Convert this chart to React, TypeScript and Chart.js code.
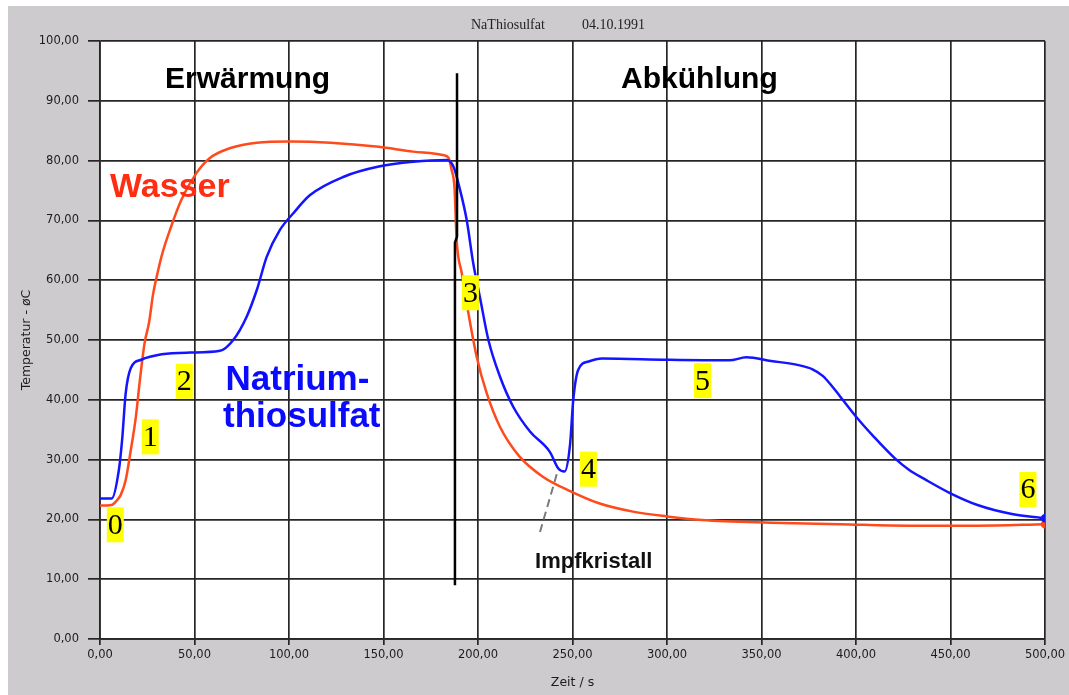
import { useEffect, useRef } from 'react';
import { Chart, registerables } from 'chart.js';

Chart.register(...registerables);

// Messwerte (Zeit in s, Temperatur in °C)
const wasserZeit = [0, 6, 9, 11, 13.6, 16.3, 19, 21, 23.6, 26, 28, 30.8, 33, 37, 43, 51, 58, 69, 83, 100, 122, 147.5, 165.7, 182, 184.5, 186, 187.6, 188.7, 191.4, 194.9, 199.3, 204.6, 211.6, 222, 234.5, 249, 264, 282, 300, 318.5, 355, 391.5, 428, 464, 500];
const wasserTemp = [22.3, 22.4, 23.2, 24.1, 26.6, 31.6, 37.2, 43, 49.5, 53, 57.5, 61.7, 64.5, 68.4, 73.4, 77.9, 80.4, 82.1, 83.0, 83.2, 83.0, 82.3, 81.5, 80.9, 80.4, 78.5, 75.3, 66.7, 61.2, 54.5, 47.2, 41.1, 35.5, 30.5, 27.1, 24.7, 22.7, 21.3, 20.5, 19.9, 19.45, 19.2, 18.95, 18.95, 19.2];

const natriumZeit = [0, 6.2, 10, 11.7, 13.6, 16.3, 21.8, 32.7, 47.6, 63.5, 70.5, 77.6, 83, 88.2, 95.2, 102.3, 111, 129, 147.5, 165.7, 183.4, 187, 190.5, 194, 197.5, 201, 205.5, 211.6, 218.7, 227.5, 238, 242.5, 245.8, 248.7, 250.4, 253, 258.5, 265.6, 300, 333, 342, 355, 369.6, 377, 382.4, 387, 391.5, 400.5, 409.5, 420.6, 428, 437, 449.7, 464.3, 482.5, 500];
const natriumTemp = [23.5, 23.5, 28.3, 33.3, 41.1, 45.3, 46.7, 47.6, 47.9, 48.2, 50, 53.9, 58.4, 63.9, 68.4, 71.2, 74.2, 77.3, 79, 79.8, 80.1, 79, 75.1, 70.1, 62.8, 57.2, 50, 43.9, 38.8, 34.7, 31.3, 28.5, 28, 32.5, 40, 45, 46.4, 46.9, 46.7, 46.6, 47.1, 46.5, 45.8, 45.1, 44.0, 42.4, 40.6, 37.0, 33.8, 30.2, 28.3, 26.6, 24.4, 22.4, 20.9, 20.2];

// senkrechte Trennlinie Erwärmung / Abkühlung
const trennZeit = [188.9, 188.9, 187.8, 187.8];
const trennTemp = [94.6, 67.3, 66.3, 9];

// gestrichelter Hinweis auf den Impfkristall
const impfZeit = [232.8, 242];
const impfTemp = [17.9, 27.9];

// nummerierte Marken
const marken = ['0', '1', '2', '3', '4', '5', '6'];
const markenZeit = [8.1, 26.6, 44.6, 196, 258.4, 318.8, 491];
const markenTemp = [19.1, 33.8, 43.1, 57.9, 28.4, 43.2, 25];

const texte = [
  { text: 'Erwärmung', x: 34.4, y: 92.1, color: '#000000', font: 'bold 30px "Liberation Sans", Arial, sans-serif' },
  { text: 'Abkühlung', x: 275.7, y: 92.1, color: '#000000', font: 'bold 30px "Liberation Sans", Arial, sans-serif' },
  { text: 'Wasser', x: 5.3, y: 73.9, color: '#ff2e12', font: 'bold 34px "Liberation Sans", Arial, sans-serif' },
  { text: 'Natrium-', x: 66.4, y: 41.6, color: '#0a0aff', font: 'bold 35px "Liberation Sans", Arial, sans-serif' },
  { text: 'thiosulfat', x: 65.1, y: 35.4, color: '#0a0aff', font: 'bold 35px "Liberation Sans", Arial, sans-serif' },
  { text: 'Impfkristall', x: 230.2, y: 11.9, color: '#111111', font: 'bold 22px "Liberation Sans", Arial, sans-serif' },
];

const zip = (xs: number[], ys: number[]) => xs.map((x, i) => ({ x, y: ys[i] }));
const fmt = (v: number | string) => Number(v).toFixed(2).replace('.', ',');

const gridColor = '#262626';
const tickFont = { family: '"DejaVu Sans", sans-serif', size: 11.5 };

const beschriftung = {
  id: 'beschriftung',
  beforeDraw(chart: Chart) {
    const { ctx, chartArea } = chart;
    ctx.save();
    ctx.fillStyle = '#ffffff';
    ctx.fillRect(chartArea.left, chartArea.top, chartArea.right - chartArea.left, chartArea.bottom - chartArea.top);
    ctx.fillStyle = '#222222';
    ctx.font = '14px "Liberation Serif", serif';
    ctx.textBaseline = 'middle';
    ctx.fillText('NaThiosulfat', chartArea.left + 371, 19);
    ctx.fillText('04.10.1991', chartArea.left + 482, 19);
    ctx.restore();
  },
  afterDatasetsDraw(chart: Chart) {
    const { ctx } = chart;
    const xs = chart.scales.x;
    const ys = chart.scales.y;
    ctx.save();
    ctx.textBaseline = 'alphabetic';
    ctx.textAlign = 'left';
    texte.forEach((t) => {
      ctx.font = t.font;
      ctx.fillStyle = t.color;
      ctx.fillText(t.text, xs.getPixelForValue(t.x), ys.getPixelForValue(t.y));
    });
    ctx.font = '30px "Liberation Serif", "Times New Roman", serif';
    ctx.textBaseline = 'middle';
    ctx.textAlign = 'center';
    marken.forEach((m, i) => {
      const cx = xs.getPixelForValue(markenZeit[i]);
      const cy = ys.getPixelForValue(markenTemp[i]);
      const w = ctx.measureText(m).width + 2;
      const h = 35;
      ctx.fillStyle = '#ffff00';
      ctx.fillRect(cx - w / 2, cy - h / 2, w, h);
      ctx.fillStyle = '#000000';
      ctx.fillText(m, cx, cy + 1);
    });
    ctx.restore();
  },
};

export default function App() {
  const canvasRef = useRef<HTMLCanvasElement>(null);

  useEffect(() => {
    if (!canvasRef.current) return;
    const lastPoint = (n: number) => (c: any) => (c.dataIndex === n - 1 ? 3 : 0);
    const chart = new Chart(canvasRef.current, {
      type: 'line',
      data: {
        datasets: [
          {
            label: 'Trennlinie',
            data: zip(trennZeit, trennTemp),
            borderColor: '#000000',
            borderWidth: 2.5,
            pointRadius: 0,
            tension: 0,
            order: 0,
          },
          {
            label: 'Impfkristall',
            data: zip(impfZeit, impfTemp),
            borderColor: '#7a7a7a',
            borderWidth: 2,
            borderDash: [8, 5],
            pointRadius: 0,
            tension: 0,
            order: 1,
          },
          {
            label: 'Natriumthiosulfat',
            data: zip(natriumZeit, natriumTemp),
            borderColor: '#1414ff',
            backgroundColor: '#1414ff',
            borderWidth: 2.5,
            pointRadius: lastPoint(natriumZeit.length),
            cubicInterpolationMode: 'monotone',
            order: 2,
          },
          {
            label: 'Wasser',
            data: zip(wasserZeit, wasserTemp),
            borderColor: '#ff4a1c',
            backgroundColor: '#ff4a1c',
            borderWidth: 2.5,
            pointRadius: lastPoint(wasserZeit.length),
            cubicInterpolationMode: 'monotone',
            order: 3,
          },
        ],
      },
      options: {
        animation: false,
        responsive: false,
        layout: { padding: { left: 0, top: 35, right: 24, bottom: 0 } },
        plugins: {
          legend: { display: false },
          tooltip: { enabled: false },
          title: { display: false },
        },
        scales: {
          x: {
            type: 'linear',
            min: 0,
            max: 500,
            ticks: { stepSize: 50, callback: fmt, font: tickFont, color: '#1c1c1c', padding: 3, maxRotation: 0, autoSkip: false },
            grid: { color: gridColor, lineWidth: 1.7, tickLength: 6 },
            border: { color: gridColor, width: 1.7 },
            title: { display: true, text: 'Zeit / s', font: { family: '"DejaVu Sans", sans-serif', size: 12.5 }, color: '#1c1c1c', padding: { top: 0, bottom: 4.5 } },
            afterFit: (s: any) => {
              s.height = 56;
            },
          },
          y: {
            min: 0,
            max: 100,
            ticks: { stepSize: 10, callback: fmt, font: tickFont, color: '#1c1c1c', padding: 9 },
            grid: { color: gridColor, lineWidth: 1.7, tickLength: 12 },
            border: { color: gridColor, width: 1.7 },
            title: { display: true, text: 'Temperatur - øC', font: { family: '"DejaVu Sans", sans-serif', size: 12.5 }, color: '#1c1c1c', padding: { top: 11, bottom: 0 } },
            afterFit: (s: any) => {
              s.width = 92;
            },
          },
        },
      },
      plugins: [beschriftung],
    });
    return () => chart.destroy();
  }, []);

  return (
    <div style={{ position: 'fixed', left: 8, top: 6, width: 1061, height: 689, background: '#cdcbce' }}>
      <canvas ref={canvasRef} width={1061} height={689} style={{ display: 'block' }} />
    </div>
  );
}
